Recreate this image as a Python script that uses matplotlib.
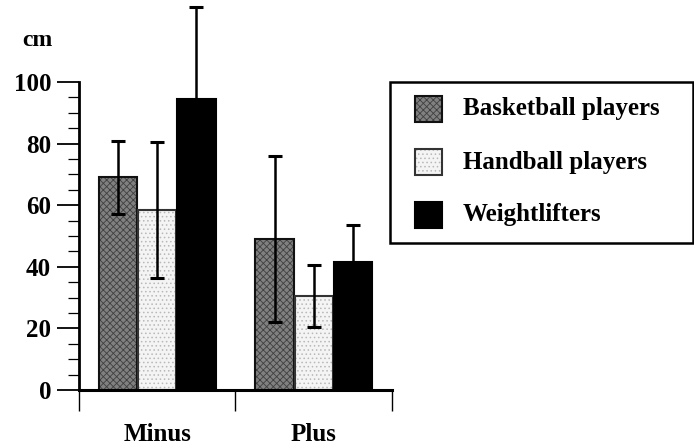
import matplotlib
matplotlib.use("Agg")
import matplotlib.pyplot as plt
import numpy as np
from matplotlib.patches import Rectangle
from matplotlib.ticker import FixedLocator

plt.rcParams['font.family'] = ['Liberation Serif', 'DejaVu Serif']
plt.rcParams['font.weight'] = 'bold'
plt.rcParams['hatch.linewidth'] = 0.6

categories = ["Minus", "Plus"]
series = ["Basketball players", "Handball players", "Weightlifters"]
means = {
    "Basketball players": [69, 49],
    "Handball players": [58.5, 30.5],
    "Weightlifters": [94.5, 41.5],
}
errors = {
    "Basketball players": [12, 27],
    "Handball players": [22, 10],
    "Weightlifters": [30, 12],
}

styles = {
    "Basketball players": dict(facecolor="#808080", hatch="xxxxx", hatchcolor="#404040", edgecolor="#111111"),
    "Handball players": dict(facecolor="#f4f4f4", hatch="....", hatchcolor="#b8b8b8", edgecolor="#333333"),
    "Weightlifters": dict(facecolor="black", hatch=None, hatchcolor="black", edgecolor="black"),
}

W, H = 694, 446
fig = plt.figure(figsize=(W / 100, H / 100), dpi=100)
ppu = 3.08
ymax = 125
y0 = 390
ax = fig.add_axes([79 / W, (H - y0) / H, (392 - 79) / W, ymax * ppu / H])

width = 0.245
offsets = [-0.25, 0.0, 0.25]
centers = np.arange(len(categories)) + 0.5
for s, off in zip(series, offsets):
    st = styles[s]
    bars = ax.bar(centers + off, means[s], width=width, color=st["facecolor"],
                  edgecolor=st["edgecolor"], linewidth=1.5, hatch=st["hatch"], zorder=2)
    if st["hatch"]:
        for b in bars:
            b._hatch_color = matplotlib.colors.to_rgba(st["hatchcolor"])
    ax.errorbar(centers + off, means[s], yerr=errors[s], fmt="none", ecolor="black",
                elinewidth=1.8, capsize=5, capthick=2.2, zorder=3, clip_on=False)

ax.set_xlim(0, 2)
ax.set_ylim(0, ymax)
ax.spines["top"].set_visible(False)
ax.spines["right"].set_visible(False)
ax.spines["left"].set_linewidth(2.0)
ax.spines["bottom"].set_linewidth(2.2)
ax.spines["left"].set_bounds(0, 100)

ax.set_yticks([0, 20, 40, 60, 80, 100])
ax.yaxis.set_minor_locator(FixedLocator([v for v in range(5, 100, 5) if v % 20]))
ax.tick_params(axis="y", which="major", direction="out", length=16, width=1.3, labelsize=18, pad=4)
ax.tick_params(axis="y", which="minor", direction="out", length=8, width=0.9)
for lbl in ax.get_yticklabels():
    lbl.set_fontweight("bold")

ax.set_xticks([0, 1, 2])
ax.set_xticklabels([])
ax.tick_params(axis="x", which="major", direction="out", length=15, width=1.0)
ax.set_xticks(centers, minor=True)
ax.set_xticklabels(categories, minor=True, fontsize=18, fontweight="bold")
ax.tick_params(axis="x", which="minor", length=0, pad=24)

fig.text(37 / W, 1 - 40 / H, "cm", ha="center", va="center", fontsize=17, fontweight="bold")

# legend box
lx0, ly0, lx1, ly1 = 390, 82, 693, 243
fig.add_artist(Rectangle((lx0 / W, 1 - ly1 / H), (lx1 - lx0) / W, (ly1 - ly0) / H,
                         transform=fig.transFigure, fill=False, edgecolor="black", linewidth=1.8))
rows = [109, 162, 215]
for s, ry in zip(series, rows):
    st = styles[s]
    p = Rectangle((415 / W, 1 - (ry + 13) / H), 27 / W, 26 / H, transform=fig.transFigure,
                  facecolor=st["facecolor"], edgecolor=st["edgecolor"], linewidth=1.5,
                  hatch=st["hatch"])
    if st["hatch"]:
        p._hatch_color = matplotlib.colors.to_rgba(st["hatchcolor"])
    fig.add_artist(p)
    fig.text(463 / W, 1 - ry / H, s, ha="left", va="center", fontsize=18, fontweight="bold")

fig.savefig("out.png", dpi=100)
